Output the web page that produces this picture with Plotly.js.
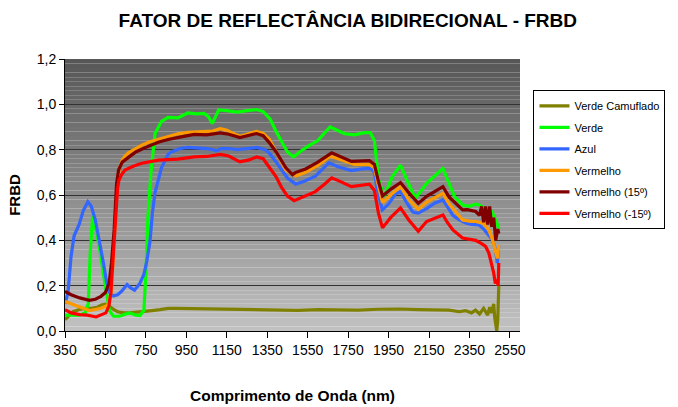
<!DOCTYPE html>
<html>
<head>
<meta charset="utf-8">
<script src="https://cdn.plot.ly/plotly-3.0.1.min.js"></script>
<style>html,body{margin:0;padding:0;background:#fff;}#chart{width:678px;height:407px;}</style>
</head>
<body>
<div id="chart"></div>
<script>
// Series names
const seriesNames = ["Verde Camuflado", "Verde", "Azul", "Vermelho", "Vermelho (15º)", "Vermelho (-15º)"];

// Verde Camuflado
const camX = [350,370,390,420,450,480,510,530,550,570,590,610,640,670,700,740,780,820,860,900,1000,1100,1200,1300,1400,1500,1600,1700,1800,1900,2000,2100,2200,2250,2300,2330,2360,2380,2400,2420,2440,2450,2460,2470,2475,2480,2485,2490,2495];
const camY = [0.05,0.07,0.085,0.095,0.10,0.10,0.105,0.115,0.118,0.11,0.095,0.085,0.08,0.08,0.082,0.087,0.09,0.094,0.10,0.10,0.098,0.097,0.095,0.093,0.092,0.091,0.094,0.093,0.092,0.096,0.097,0.094,0.093,0.092,0.085,0.09,0.08,0.092,0.075,0.10,0.07,0.105,0.08,0.12,0.06,0.02,0.0,0.05,0.2];

// Verde
const verX = [350,380,420,450,465,475,487,500,520,540,555,570,590,620,650,670,700,720,740,750,760,775,795,827,860,908,957,1000,1038,1060,1078,1095,1110,1150,1200,1250,1297,1330,1345,1365,1394,1426,1450,1480,1510,1560,1600,1661,1700,1733,1782,1830,1860,1880,1900,1928,1968,2009,2041,2082,2138,2219,2245,2276,2316,2350,2380,2397,2420,2440,2461,2475,2486,2495];
const verY = [0.07,0.07,0.07,0.08,0.12,0.35,0.51,0.46,0.37,0.25,0.16,0.09,0.065,0.065,0.075,0.08,0.07,0.068,0.09,0.25,0.50,0.70,0.87,0.925,0.942,0.94,0.962,0.958,0.96,0.945,0.915,0.95,0.975,0.972,0.966,0.972,0.977,0.968,0.955,0.935,0.88,0.83,0.79,0.768,0.79,0.82,0.84,0.90,0.885,0.87,0.865,0.875,0.875,0.84,0.67,0.593,0.68,0.732,0.666,0.585,0.651,0.717,0.66,0.593,0.556,0.55,0.56,0.556,0.545,0.53,0.527,0.50,0.476,0.45];

// Azul
const azuX = [350,365,380,395,420,440,463,480,500,520,540,555,570,590,610,630,657,675,694,720,740,755,771,782,795,827,844,860,876,920,957,1000,1050,1080,1102,1120,1160,1200,1250,1300,1340,1365,1394,1420,1450,1491,1530,1588,1620,1655,1700,1766,1820,1863,1880,1895,1919,1950,1985,2009,2040,2070,2097,2138,2180,2219,2240,2268,2300,2332,2360,2397,2420,2446,2465,2478,2488,2495];
const azuY = [0.12,0.17,0.33,0.42,0.47,0.53,0.57,0.55,0.49,0.40,0.30,0.22,0.17,0.155,0.16,0.175,0.205,0.19,0.18,0.21,0.25,0.31,0.40,0.52,0.61,0.72,0.755,0.78,0.79,0.805,0.81,0.808,0.805,0.80,0.795,0.805,0.805,0.80,0.805,0.81,0.80,0.78,0.745,0.71,0.675,0.648,0.66,0.683,0.71,0.742,0.725,0.708,0.715,0.717,0.70,0.62,0.534,0.56,0.605,0.615,0.565,0.525,0.52,0.54,0.565,0.578,0.55,0.51,0.49,0.476,0.47,0.468,0.45,0.42,0.40,0.36,0.30,0.38];

// Vermelho
const verm0X = [350,380,407,440,471,500,528,555,568,580,590,600,609,620,633,650,665,700,730,770,811,860,908,957,1000,1050,1080,1118,1151,1180,1215,1250,1297,1330,1361,1394,1442,1491,1540,1600,1661,1700,1782,1855,1880,1900,1920,1960,2009,2050,2097,2140,2219,2250,2316,2350,2381,2420,2446,2465,2478,2488,2495];
const verm0Y = [0.13,0.12,0.11,0.10,0.09,0.095,0.10,0.11,0.125,0.18,0.35,0.55,0.666,0.72,0.754,0.775,0.787,0.805,0.82,0.835,0.846,0.86,0.87,0.876,0.879,0.882,0.882,0.893,0.886,0.872,0.859,0.868,0.881,0.872,0.845,0.79,0.71,0.684,0.70,0.73,0.771,0.76,0.735,0.735,0.72,0.64,0.566,0.60,0.637,0.58,0.537,0.57,0.607,0.56,0.49,0.485,0.483,0.475,0.446,0.40,0.36,0.32,0.38];

// Vermelho (15º)
const verm15X = [350,380,423,471,500,528,550,568,580,593,605,615,633,665,700,750,811,860,908,957,989,1050,1118,1160,1215,1260,1297,1330,1361,1394,1442,1475,1491,1540,1600,1669,1710,1766,1855,1880,1900,1920,1960,2009,2050,2097,2140,2219,2250,2316,2340,2360,2381,2400,2410,2420,2430,2440,2450,2460,2470,2480,2490,2495];
const verm15Y = [0.175,0.16,0.146,0.135,0.14,0.153,0.17,0.21,0.30,0.446,0.65,0.71,0.745,0.768,0.79,0.81,0.833,0.845,0.855,0.862,0.867,0.865,0.874,0.868,0.853,0.862,0.871,0.862,0.83,0.79,0.72,0.69,0.70,0.715,0.745,0.786,0.77,0.748,0.752,0.735,0.66,0.596,0.625,0.655,0.61,0.563,0.595,0.637,0.59,0.534,0.535,0.53,0.527,0.51,0.55,0.48,0.55,0.47,0.55,0.46,0.50,0.40,0.45,0.43];

// Vermelho (-15º)
const vermN15X = [350,380,423,460,504,530,552,567,577,590,601,610,617,630,647,690,730,811,908,989,1050,1080,1118,1160,1215,1260,1297,1330,1361,1394,1420,1450,1483,1540,1588,1630,1669,1710,1766,1855,1880,1900,1920,1960,2009,2050,2097,2138,2219,2240,2268,2316,2350,2381,2410,2430,2446,2461,2470,2478,2486,2492,2495];
const vermN15Y = [0.094,0.08,0.072,0.07,0.062,0.07,0.08,0.11,0.17,0.35,0.52,0.63,0.666,0.69,0.71,0.728,0.74,0.754,0.758,0.768,0.77,0.775,0.779,0.772,0.746,0.755,0.768,0.76,0.724,0.68,0.635,0.595,0.575,0.595,0.615,0.645,0.676,0.66,0.637,0.648,0.62,0.52,0.455,0.50,0.543,0.49,0.44,0.483,0.512,0.48,0.446,0.41,0.405,0.40,0.385,0.373,0.344,0.29,0.256,0.21,0.226,0.2,0.3];

const colors = ["#808000", "#00ff00", "#3366ff", "#ff9900", "#800000", "#ff0000"];
const xs = [camX, verX, azuX, verm0X, verm15X, vermN15X];
const ys = [camY, verY, azuY, verm0Y, verm15Y, vermN15Y];

const traces = seriesNames.map((n, i) => ({
  type: "scatter", mode: "lines", name: n, x: xs[i], y: ys[i],
  line: {color: colors[i], width: 3.2}, legendgroup: "g" + i
}));

// gradient background bands
const shapes = [];
const N = 60;
for (let k = 0; k < N; k++) {
  const t = k / N;
  const v = Math.round(194 - (194 - 86) * (t + 0.5 / N));
  shapes.push({type: "rect", xref: "paper", yref: "paper", x0: 0, x1: 1, y0: t, y1: (k + 1) / N,
    fillcolor: `rgb(${v},${v},${v})`, line: {width: 0}, layer: "below"});
}

const font = "Arial, 'Liberation Sans', sans-serif";
const layout = {
  width: 678, height: 407,
  margin: {l: 65, r: 150, t: 58.5, b: 75.5},
  paper_bgcolor: "#ffffff", plot_bgcolor: "rgba(0,0,0,0)",
  separators: ",.",
  font: {family: font, size: 14, color: "#000"},
  title: {text: "FATOR DE REFLECTÂNCIA BIDIRECIONAL - FRBD", font: {family: font, size: 19, weight: "bold", color: "#000"},
    x: 0.513, xref: "container", xanchor: "center", y: 0.95, yref: "container", yanchor: "middle"},
  xaxis: {
    range: [350, 2600], tick0: 350, dtick: 200, tickmode: "linear",
    showgrid: false, zeroline: false, showline: true, linecolor: "#000", linewidth: 1,
    ticks: "outside", ticklen: 6, tickcolor: "#000", tickfont: {family: font, size: 14},
    title: {text: "Comprimento de Onda (nm)", font: {family: font, size: 15.5, weight: "bold"}, standoff: 33}
  },
  yaxis: {
    range: [0, 1.2], tick0: 0, dtick: 0.2, tickmode: "linear", tickformat: ".1f",
    showgrid: true, gridcolor: "#333333", gridwidth: 1, zeroline: false,
    showline: true, linecolor: "#000", linewidth: 1,
    ticks: "outside", ticklen: 5, tickcolor: "#000", tickfont: {family: font, size: 14},
    title: {text: "FRBD", font: {family: font, size: 15, weight: "bold"}, standoff: 12}
  },
  legend: {
    x: 1.3197, y: 0.885, xanchor: "right", yanchor: "top",
    bgcolor: "#ffffff", bordercolor: "#000", borderwidth: 1,
    font: {family: font, size: 11}, itemwidth: 30, tracegroupgap: 2.5
  },
  shapes: shapes,
  showlegend: true
};

Plotly.newPlot("chart", traces, layout, {displayModeBar: false, staticPlot: true});
</script>
</body>
</html>
